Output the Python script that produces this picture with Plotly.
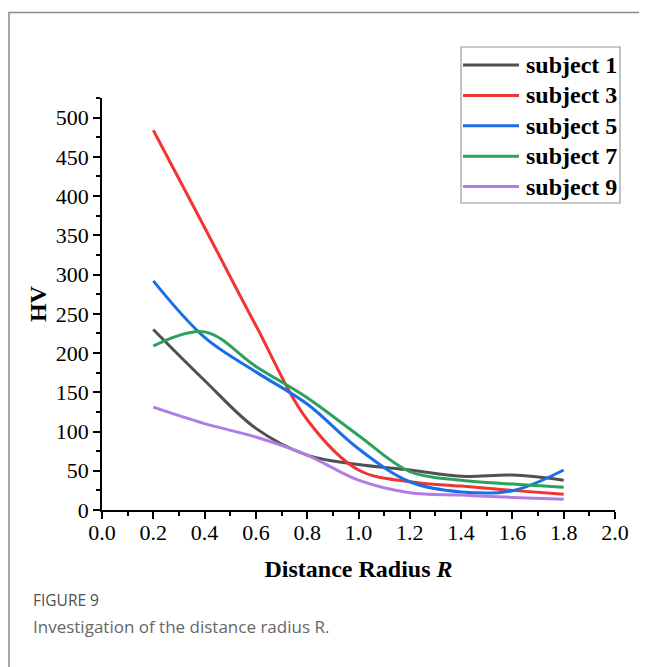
import plotly.graph_objects as go

# Data
R = [0.2, 0.4, 0.6, 0.8, 1.0, 1.2, 1.4, 1.6, 1.8]
subject1 = [230, 165, 104, 70, 58, 51, 43, 44.5, 38]
subject3 = [484, 360, 235, 115, 51, 36, 30.5, 25, 20]
subject5 = [292, 220, 176, 135, 78, 36, 23, 24.5, 51]
subject7 = [209, 227, 183, 143, 95, 49, 38, 33, 29]
subject9 = [131, 110, 93, 70, 38, 22, 19, 16, 13.6]

names = ["subject 1", "subject 3", "subject 5", "subject 7", "subject 9"]
series = [subject1, subject3, subject5, subject7, subject9]
colors = ["#505050", "#f03535", "#1a6ee6", "#2aa15c", "#b27be6"]

OFF = 8  # page body margin
W, H = 647 - OFF, 667 - OFF
# plot area in screen pixels: x 102..615, y 98..510
L, T = 102 - OFF, 98 - OFF
Rm = W - (615 - OFF)
B = H - (510 - OFF)
pw, ph = W - L - Rm, H - T - B


def px2paper_x(px):
    return (px - OFF - L) / pw


def px2paper_y(py):
    return (H - B - (py - OFF)) / ph


fig = go.Figure()
for n, s, c in zip(names, series, colors):
    fig.add_trace(go.Scatter(x=R, y=s, name=n, mode="lines", showlegend=False,
                             line=dict(color=c, width=3, shape="spline", smoothing=1.0)))

serif = "Liberation Serif, Times New Roman, serif"
fig.update_layout(
    width=W, height=H,
    margin=dict(l=L, r=Rm, t=T, b=B, autoexpand=False),
    paper_bgcolor="white", plot_bgcolor="white",
    font=dict(family=serif, color="black"),
    showlegend=False,
)
fig.update_xaxes(
    range=[0, 2.0], dtick=0.2, tick0=0, tickformat=".1f", automargin=False,
    showline=True, linecolor="black", linewidth=1.5, mirror=False,
    showgrid=False, zeroline=False,
    ticks="outside", ticklen=7, tickwidth=1.5, tickcolor="black",
    ticklabelstandoff=-5,
    tickfont=dict(family=serif, size=22, color="black"),
    minor=dict(dtick=0.1, ticks="outside", ticklen=4, tickwidth=1.5, tickcolor="black", showgrid=False),
    title=dict(text="<b>Distance Radius <i>R</i></b>", font=dict(family=serif, size=24, color="black"), standoff=16),
)
fig.update_yaxes(
    range=[0, 525], dtick=50, tick0=0, automargin=False,
    showline=True, linecolor="black", linewidth=1.5,
    showgrid=False, zeroline=False,
    ticks="outside", ticklen=7, tickwidth=1.5, tickcolor="black",
    tickfont=dict(family=serif, size=22, color="black"),
    minor=dict(dtick=25, ticks="outside", ticklen=4, tickwidth=1.5, tickcolor="black", showgrid=False),
    title=dict(text="<b>HV</b>", font=dict(family=serif, size=24, color="black"), standoff=2),
)

# Legend box (drawn from names/colors)
fig.add_shape(type="rect", xref="paper", yref="paper",
              x0=px2paper_x(461), x1=px2paper_x(620), y0=px2paper_y(203), y1=px2paper_y(47),
              line=dict(color="#9a9a9a", width=1.2), fillcolor="white", layer="above")
row0, rowgap = 65, 30.4
for i, (n, c) in enumerate(zip(names, colors)):
    yy = px2paper_y(row0 + i * rowgap)
    fig.add_shape(type="line", xref="paper", yref="paper",
                  x0=px2paper_x(463), x1=px2paper_x(519), y0=yy, y1=yy,
                  line=dict(color=c, width=3), layer="above")
    fig.add_annotation(xref="paper", yref="paper", x=px2paper_x(524), y=yy,
                       xanchor="left", yanchor="middle", showarrow=False,
                       text="<b>%s</b>" % n, font=dict(family=serif, size=24, color="black"))

# Outer frame
fig.add_shape(type="rect", xref="paper", yref="paper",
              x0=px2paper_x(9), x1=px2paper_x(700), y0=px2paper_y(720), y1=px2paper_y(12.5),
              line=dict(color="#8a8a8a", width=1.5), fillcolor="rgba(0,0,0,0)", layer="below")

# Caption
fig.add_annotation(xref="paper", yref="paper", x=px2paper_x(31), y=px2paper_y(600),
                   xanchor="left", yanchor="middle", showarrow=False,
                   text="FIGURE 9", font=dict(family="Open Sans, sans-serif", size=15.5, color="#505050"))
fig.add_annotation(xref="paper", yref="paper", x=px2paper_x(31), y=px2paper_y(626),
                   xanchor="left", yanchor="middle", showarrow=False,
                   text="Investigation of the distance radius R.",
                   font=dict(family="Open Sans, sans-serif", size=17, color="#666666"))

fig.write_html("out.html")
